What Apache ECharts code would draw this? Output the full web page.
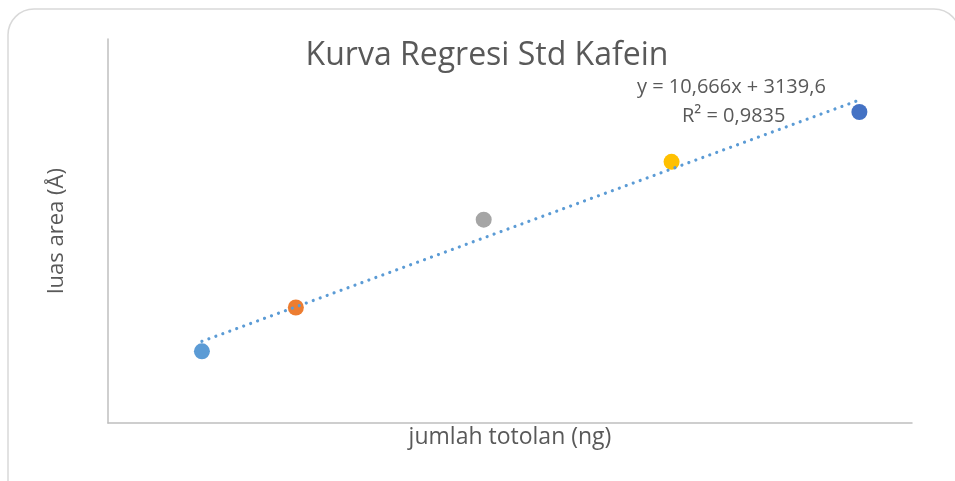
<!DOCTYPE html>
<html>
<head>
<meta charset="utf-8">
<script src="https://cdn.jsdelivr.net/npm/echarts@6/dist/echarts.min.js"></script>
<style>
  html, body { margin: 0; padding: 0; background: #fff; }
  #chart { width: 955px; height: 481px; }
</style>
</head>
<body>
<div id="chart"></div>
<script>
// jumlah totolan (ng) vs luas area
var xValues = [50, 100, 200, 300, 400]
var yValues = [3518, 4197, 5555, 6450, 7221]
var pointColors = ['#5B9BD5', '#ED7D31', '#A5A5A5', '#FFC000', '#4472C4']
var trendX = [50, 400]
var trendY = [3673, 7406]
var equationText = 'y = 10,666x + 3139,6'
var r2Text = 'R² = 0,9835'

var font = 'Open Sans'
var textColor = '#595959'

var points = xValues.map(function (x, i) {
  return { value: [x, yValues[i]], itemStyle: { color: pointColors[i], opacity: 1 } }
})
var trend = trendX.map(function (x, i) { return [x, trendY[i]] })

var chart = echarts.init(document.getElementById('chart'))
chart.setOption({
  animation: false,
  textStyle: { fontFamily: font },
  graphic: [
    {
      type: 'rect',
      shape: { x: 8, y: 9, width: 952, height: 520, r: 26 },
      style: { fill: 'none', stroke: '#D9D9D9', lineWidth: 1.5 },
      silent: true
    },
    {
      type: 'text',
      x: 487,
      y: 56,
      style: {
        text: 'Kurva Regresi Std Kafein',
        font: '32px "Open Sans"',
        fill: textColor,
        align: 'center',
        verticalAlign: 'middle'
      }
    },
    {
      type: 'text',
      x: 637,
      y: 87,
      style: { text: equationText, font: '20px "Open Sans"', fill: textColor, verticalAlign: 'middle' }
    },
    {
      type: 'text',
      x: 682,
      y: 116,
      style: { text: r2Text, font: '20px "Open Sans"', fill: textColor, verticalAlign: 'middle' }
    }
  ],
  grid: { left: 108, right: 43, top: 39, bottom: 58 },
  xAxis: {
    type: 'value',
    min: 0,
    max: 428,
    name: 'jumlah totolan (ng)',
    nameLocation: 'middle',
    nameGap: 3,
    nameTextStyle: { fontFamily: font, fontSize: 23, color: textColor },
    axisLine: { show: true, lineStyle: { color: '#BFBFBF', width: 1.5 } },
    axisTick: { show: false },
    axisLabel: { show: false },
    splitLine: { show: false }
  },
  yAxis: {
    type: 'value',
    min: 2410,
    max: 8350,
    name: 'luas area (Å)',
    nameLocation: 'middle',
    nameGap: 40,
    nameTextStyle: { fontFamily: font, fontSize: 22, color: textColor },
    axisLine: { show: true, lineStyle: { color: '#BFBFBF', width: 1.5 } },
    axisTick: { show: false },
    axisLabel: { show: false },
    splitLine: { show: false }
  },
  series: [
    {
      type: 'line',
      data: trend,
      symbol: 'none',
      lineStyle: { color: '#5B9BD5', width: 3.2, type: [0.01, 7.4], cap: 'round' },
      z: 3
    },
    {
      type: 'scatter',
      data: points,
      symbolSize: 16,
      z: 2
    }
  ]
})
</script>
</body>
</html>
